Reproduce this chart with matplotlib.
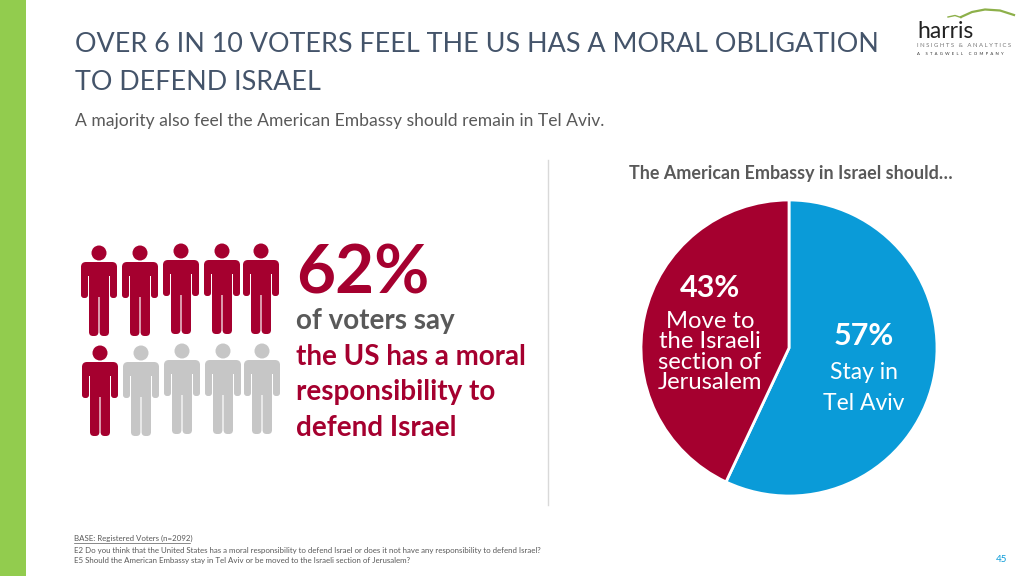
import matplotlib
matplotlib.use('Agg')
import matplotlib.pyplot as plt
from matplotlib.patches import Circle, Rectangle, FancyBboxPatch

plt.rcParams['font.family'] = ['Lato', 'DejaVu Sans']

CRIMSON = '#A5002F'
BLUE = '#0A9BD8'
GREY = '#C6C6C6'
DARK = '#595959'
SLATE = '#44546A'

pie_labels = ['Stay in\nTel Aviv', 'Move to\nthe Israeli\nsection of\nJerusalem']
pie_values = [57, 43]
pie_colors = [BLUE, CRIMSON]

people_x = [[99, 140, 181, 222, 261], [100, 141, 182, 223, 262]]
people_head_y = [[253, 253, 251, 251, 251], [353, 353, 351, 351, 351]]
people_share = 6

fig = plt.figure(figsize=(10.24, 5.76), dpi=100)
ax = fig.add_axes([0, 0, 1, 1])
ax.set_xlim(0, 1024)
ax.set_ylim(576, 0)
ax.axis('off')


def rbox(x0, y0, x1, y1, r, color):
    ax.add_patch(FancyBboxPatch((x0 + r, y0 + r), x1 - x0 - 2 * r, y1 - y0 - 2 * r,
                                boxstyle='round,pad=%g,rounding_size=%g' % (r, r),
                                fc=color, ec='none', zorder=3))


def person(cx, hy, color):
    ax.add_patch(Circle((cx, hy), 7.5, fc=color, ec='none', zorder=3))
    top = hy + 9
    # shoulders and arms
    rbox(cx - 18, top, cx + 18, top + 14, 5, color)
    rbox(cx - 18, top + 3, cx - 11, top + 36, 3, color)
    rbox(cx + 11, top + 3, cx + 18, top + 36, 3, color)
    # torso and legs
    ax.add_patch(Rectangle((cx - 10, top + 5), 20, 30, fc=color, ec='none', zorder=3))
    rbox(cx - 10, top + 25, cx - 0.6, top + 74, 4, color)
    rbox(cx + 0.6, top + 25, cx + 10, top + 74, 4, color)


# side bar and divider
ax.add_patch(Rectangle((0, 0), 26, 576, fc='#92CC4E', ec='none'))
ax.plot([548, 548], [160, 505], color='#D9D9D9', lw=1)

# header
ax.text(75, 44, 'OVER 6 IN 10 VOTERS FEEL THE US HAS A MORAL OBLIGATION', fontsize=19.4, color=SLATE, va='center')
ax.text(75, 83, 'TO DEFEND ISRAEL', fontsize=19.4, color=SLATE, va='center')
ax.text(75, 121, 'A majority also feel the American Embassy should remain in Tel Aviv.', fontsize=12.6, color=DARK, va='center')

# logo
ax.text(917, 31, 'harris', fontsize=16.5, color='#222222', va='center')
ax.plot([948, 955, 961], [17, 15.5, 17.5], color='#8DB04A', lw=1)
ax.plot([961, 972, 985, 1000, 1014], [17, 12, 9.5, 10.5, 15], color='#8DB04A', lw=1.6)
ax.text(917, 45.5, 'I N S I G H T S   &   A N A L Y T I C S', fontsize=4.3, color='#777777', va='center')
ax.text(917, 54, 'A     S  T  A  G  W  E  L  L     C  O  M  P  A  N  Y', fontsize=3.1, color='#333333', va='center')

# people
for r in range(2):
    for c in range(5):
        filled = r * 5 + c < people_share
        person(people_x[r][c], people_head_y[r][c], CRIMSON if filled else GREY)

# left callout
ax.text(296, 274, '62%', fontsize=48.5, color=CRIMSON, fontweight='bold', va='center')
ax.text(296, 321, 'of voters say', fontsize=20, color=DARK, fontweight='bold', va='center')
ax.text(296, 357, 'the US has a moral', fontsize=20, color=CRIMSON, fontweight='bold', va='center')
ax.text(296, 392, 'responsibility to', fontsize=20, color=CRIMSON, fontweight='bold', va='center')
ax.text(296, 428, 'defend Israel', fontsize=20, color=CRIMSON, fontweight='bold', va='center')

# pie
ax.text(791, 174, 'The American Embassy in Israel should\u2026', fontsize=12.9, color=DARK, fontweight='bold', ha='center', va='center')
pie_ax = fig.add_axes([(789 - 148) / 1024, 1 - (348 + 148) / 576, 296 / 1024, 296 / 576])
pie_ax.pie(pie_values, colors=pie_colors, startangle=90, counterclock=False, radius=1,
           wedgeprops={'edgecolor': 'white', 'linewidth': 2})
pie_ax.set_xlim(-1, 1)
pie_ax.set_ylim(-1, 1)

ax.set_zorder(2)
ax.patch.set_alpha(0)
ax.text(864, 336, '%d%%' % pie_values[0], fontsize=22, color='white', fontweight='bold', ha='center', va='center')
ax.text(864, 388, pie_labels[0], fontsize=16.5, color='white', ha='center', va='center', linespacing=1.55)
ax.text(710, 288, '%d%%' % pie_values[1], fontsize=22, color='white', fontweight='bold', ha='center', va='center')
ax.text(710, 352, pie_labels[1], fontsize=17.2, color='white', ha='center', va='center', linespacing=0.96)

# footnotes
foot = 'E2 Do you think that the United States has a moral responsibility to defend Israel or does it not have any responsibility to defend Israel?'
ax.text(74, 538, 'BASE: Registered Voters (n=2092)', fontsize=5.7, color=DARK, va='center')
ax.plot([74, 190], [542.5, 542.5], color=DARK, lw=0.5)
ax.text(74, 550, foot, fontsize=5.7, color=DARK, va='center')
ax.text(74, 561, 'E5 Should the American Embassy stay in Tel Aviv or be moved to the Israeli section of Jerusalem?', fontsize=5.7, color=DARK, va='center')
ax.text(1002, 560, '45', fontsize=7, color=BLUE, ha='center', va='center')

fig.savefig('out.png', dpi=100)
